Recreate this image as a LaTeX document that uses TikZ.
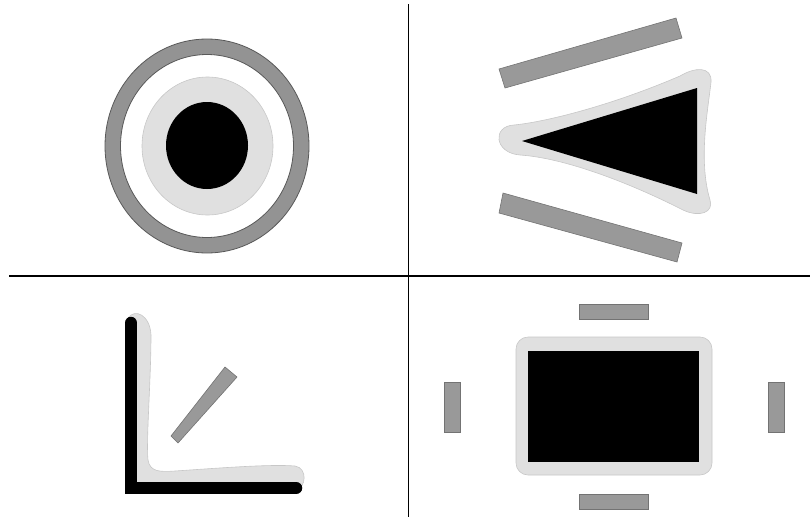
\documentclass[tikz,border=0pt]{standalone}
\begin{document}
\begin{tikzpicture}[x=1pt,y=-1pt,
  ring/.style={fill=gray!85!white,draw=black!65,line width=0.8pt},
  halo/.style={fill=black!12,draw=black!22,line width=0.6pt},
  bar/.style={fill=black!40,draw=black!55,line width=0.6pt},
  core/.style={fill=black},
  divider/.style={line width=1.4pt,black}]
\useasboundingbox (0,0) rectangle (810,517);
% dividers
\draw[divider] (408.5,4) -- (408.5,517);
\draw[divider] (9,276) -- (810,276);
% Q1 rings
\fill[ring,even odd rule] (207,146) ellipse [x radius=102,y radius=107] (207,146) ellipse [x radius=86.5,y radius=91.5];
\draw[halo] (207.5,146) ellipse [x radius=65.5,y radius=69];
\fill[core] (207,145.5) ellipse [x radius=41,y radius=43.5];
% Q2
\draw[bar] (499,69) -- (505,88) -- (682,38) -- (676,18) -- cycle;
\draw[bar] (503,193) -- (499,213) -- (677,262) -- (682,243) -- cycle;
\draw[halo] (514,125) .. controls (545,122) and (610,106) .. (680,76)
  .. controls (695,67) and (712,66) .. (711,82)
  .. controls (708,110) and (698,160) .. (710,200)
  .. controls (714,212) and (700,218) .. (683,210)
  .. controls (630,183) and (565,158) .. (520,155)
  .. controls (494,153) and (492,126) .. cycle;
\fill[core] (522,141) -- (697,88) -- (697,194) -- cycle;
% Q3
\draw[halo] (128,318) .. controls (135,308) and (150,315) .. (151,335)
  .. controls (151,380) and (146,440) .. (148,460)
  .. controls (150,472) and (160,472) .. (175,471)
  .. controls (220,468) and (270,464) .. (295,466)
  .. controls (308,468) and (306,488) .. (296,490)
  -- (131,490) -- cycle;
\draw[line width=12.5pt,line cap=round,miter limit=10] (131,323) -- (131,488) -- (296,488);
\draw[bar] (225,367) -- (237,377) -- (178,443) -- (171,436) -- cycle;
% Q4
\draw[bar] (579,304) rectangle (648,319);
\draw[bar] (579,494) rectangle (648,509);
\draw[bar] (444,382) rectangle (460,432);
\draw[bar] (768,382) rectangle (784,432);
\draw[halo,rounded corners=12pt] (516,337) rectangle (712,475);
\fill[core] (528,351) rectangle (699,462);
\end{tikzpicture}
\end{document}
